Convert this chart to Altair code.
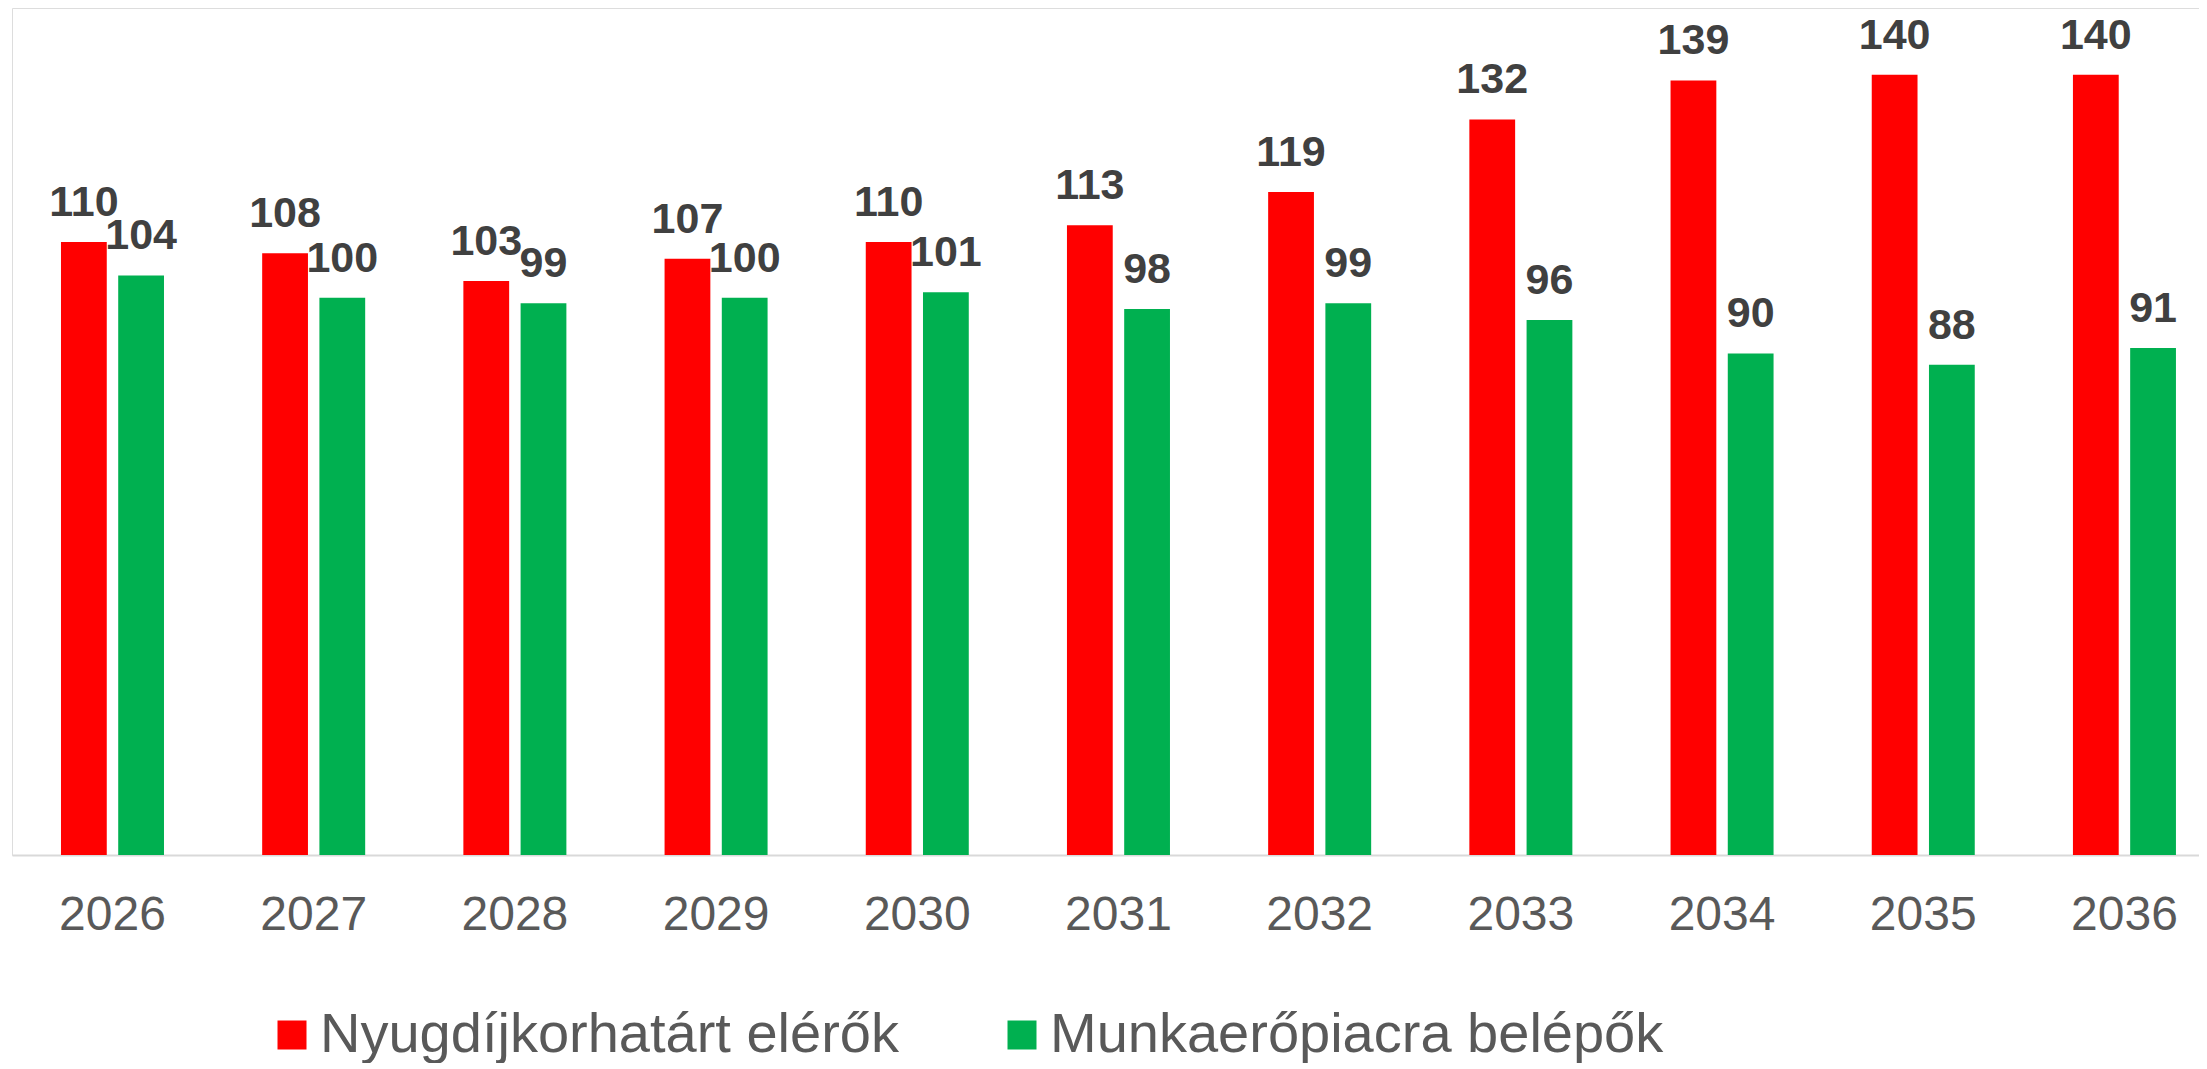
import altair as alt
import pandas as pd

years = ["2026", "2027", "2028", "2029", "2030", "2031", "2032", "2033", "2034", "2035", "2036"]
series_names = ["Nyugdíjkorhatárt elérők", "Munkaerőpiacra belépők"]
retiring = [110, 108, 103, 107, 110, 113, 119, 132, 139, 140, 140]
entering = [104, 100, 99, 100, 101, 98, 99, 96, 90, 88, 91]
colors = ["#FF0000", "#00B050"]

rows = []
for y, r, e in zip(years, retiring, entering):
    rows.append({"year": y, "series": series_names[0], "value": r})
    rows.append({"year": y, "series": series_names[1], "value": e})
df = pd.DataFrame(rows)

FONT = "Liberation Sans"

x_enc = alt.X(
    "year:N",
    sort=years,
    title=None,
    scale=alt.Scale(paddingInner=0.488, paddingOuter=0.179, align=0.68),
    axis=alt.Axis(
        labelAngle=0,
        labelFontSize=48,
        labelColor="#595959",
        labelFont=FONT,
        labelPadding=36,
        ticks=False,
        tickSize=0,
        domainColor="#D9D9D9",
        domainWidth=2,
        grid=False,
    ),
)
xoff_enc = alt.XOffset(
    "series:N", sort=series_names, scale=alt.Scale(paddingInner=0.2, paddingOuter=0)
)
y_enc = alt.Y(
    "value:Q",
    axis=None,
    scale=alt.Scale(domain=[0, 152], nice=False, zero=True),
)

bars = alt.Chart(df).mark_bar().encode(
    x=x_enc,
    xOffset=xoff_enc,
    y=y_enc,
    color=alt.Color(
        "series:N",
        sort=series_names,
        scale=alt.Scale(domain=series_names, range=colors),
        legend=alt.Legend(
            title=None,
            orient="none",
            legendX=252,
            legendY=999,
            direction="horizontal",
            symbolType="square",
            symbolSize=841,
            symbolStrokeWidth=0,
            labelFontSize=56,
            labelFont=FONT,
            labelColor="#595959",
            labelOffset=0,
            columnPadding=95,
            labelLimit=1000,
        ),
    ),
)

labels = alt.Chart(df).mark_text(
    font=FONT,
    fontSize=43,
    fontWeight="bold",
    color="#404040",
    baseline="alphabetic",
    align="center",
    dy=-26,
).encode(
    x=alt.X("year:N", sort=years),
    xOffset=alt.XOffset("series:N", sort=series_names),
    y=alt.Y("value:Q", axis=None),
    text=alt.Text("value:Q"),
)

chart = (
    alt.layer(bars, labels)
    .properties(width=2187, height=847, padding={"left": 4, "top": 0, "right": 0, "bottom": 0})
    .configure_view(stroke="transparent", strokeWidth=0)
    .configure(background="white")
)

chart.save("out.html", embed_options={"renderer": "svg", "actions": False})
